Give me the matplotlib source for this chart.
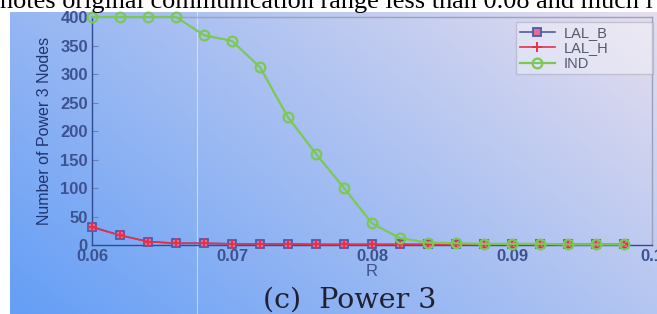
import numpy as np
import matplotlib
matplotlib.use("Agg")
import matplotlib.pyplot as plt

# ---- data ----
R = [0.060, 0.062, 0.064, 0.066, 0.068, 0.070, 0.072, 0.074, 0.076, 0.078,
     0.080, 0.082, 0.084, 0.086, 0.088, 0.090, 0.092, 0.094, 0.096, 0.098]
LAL_B = [32, 17, 6, 3, 3, 2, 2, 2, 1, 1, 1, 1, 1, 1, 1, 1, 1, 1, 1, 1]
LAL_H = [31, 17, 6, 3, 3, 2, 2, 2, 1, 1, 1, 1, 1, 1, 1, 1, 1, 1, 1, 1]
IND = [400, 400, 400, 400, 368, 358, 312, 224, 160, 100,
       38, 12, 4, 3, 2, 2, 2, 1, 1, 1]
x_ticks = [0.06, 0.07, 0.08, 0.09, 0.10]
x_tick_labels = ["0.06", "0.07", "0.08", "0.09", "0.1"]
y_ticks = [0, 50, 100, 150, 200, 250, 300, 350, 400]
series_names = ["LAL_B", "LAL_H", "IND"]
top_text = "notes original communication range less than 0.08 and much l"
caption = "(c)  Power 3"
x_label = "R"
y_label = "Number of Power 3 Nodes"

W, H = 657, 314
fig = plt.figure(figsize=(W / 100, H / 100), dpi=100)
fig.patch.set_facecolor("white")

# ---- gradient background (screenshot backdrop) ----
bg = fig.add_axes([10 / W, 0, 1 - 10 / W, (H - 12) / H], zorder=0)
nx, ny = 200, 100
u = np.linspace(0, 1, nx)[None, :]
v = np.linspace(1, 0, ny)[:, None]
t = np.clip(0.62 * u + 0.38 * v, 0, 1)
c0 = np.array([100, 158, 246]) / 255.0
c1 = np.array([230, 222, 238]) / 255.0
img = c0[None, None, :] * (1 - t[..., None]) + c1[None, None, :] * t[..., None]
bg.imshow(img, aspect="auto", extent=[0, 1, 0, 1], interpolation="bilinear")
bg.set_axis_off()
# faint seam line visible in the screenshot
bg.axvline((197 - 10) / (W - 10), color="white", lw=0.8, alpha=0.5)

# ---- main axes ----
ax = fig.add_axes([92 / W, 1 - 245 / H, (652 - 92) / W, (245 - 17) / H], zorder=2)
ax.set_facecolor("none")

blue = "#4a5cae"
red = "#e8304a"
green = "#7cc855"

ax.plot(R, LAL_B, color=blue, marker="s", ms=6, mfc="#e07090", mec=blue, mew=1.3,
        lw=1.2, label=series_names[0], clip_on=False, zorder=3)
ax.plot(R, LAL_H, color=red, marker="+", ms=7, mew=1.4,
        lw=1.2, label=series_names[1], clip_on=False, zorder=4)
ax.plot(R, IND, color=green, marker="o", ms=7, mfc="none", mec=green, mew=1.6,
        lw=1.6, label=series_names[2], clip_on=False, zorder=5)

ax.set_xlim(0.06, 0.10)
ax.set_ylim(0, 400)
ax.set_xticks(x_ticks)
ax.set_xticklabels(x_tick_labels)
ax.set_yticks(y_ticks)

tick_col = "#3d5290"
ax.tick_params(direction="in", length=4, width=0.8, colors="#7080a8",
               labelcolor=tick_col, labelsize=12, pad=3)
for lab in ax.get_xticklabels() + ax.get_yticklabels():
    lab.set_family(["Liberation Sans", "DejaVu Sans"])
    lab.set_fontweight("bold")

ax.spines["left"].set_color("#2e4c92")
ax.spines["bottom"].set_color("#2e4c92")
ax.spines["top"].set_color("#9aa2bc")
ax.spines["right"].set_color("#9aa2bc")
for s in ax.spines.values():
    s.set_linewidth(1.0)

ax.set_xlabel(x_label, color=tick_col, fontsize=12, family=["Liberation Sans", "DejaVu Sans"],
              labelpad=0)
ax.set_ylabel(y_label, color="#1f3470", fontsize=11.5, family=["Liberation Sans", "DejaVu Sans"],
              labelpad=6)

leg = ax.legend(loc="upper left", bbox_to_anchor=(0.757, 0.745, 0.245, 0.232),
                mode="expand", fontsize=10.5, frameon=True, fancybox=False,
                framealpha=0.35, facecolor="white", edgecolor="#8a8a98",
                handlelength=2.4, handletextpad=0.6, labelspacing=0.1,
                borderpad=0.25, borderaxespad=0)
for txt in leg.get_texts():
    txt.set_color("#55586a")
    txt.set_family(["Liberation Sans", "DejaVu Sans"])

# ---- surrounding page text ----
fig.text(0.0, 1 - 8 / H, top_text, ha="left", va="baseline",
         family=["Liberation Serif", "DejaVu Serif"], fontsize=18.9, color="black")
fig.text(350 / W, 1 - 308 / H, caption, ha="center", va="baseline",
         family=["DejaVu Serif"], fontsize=20.5, color="#202030")

fig.savefig("out.png", dpi=100)
